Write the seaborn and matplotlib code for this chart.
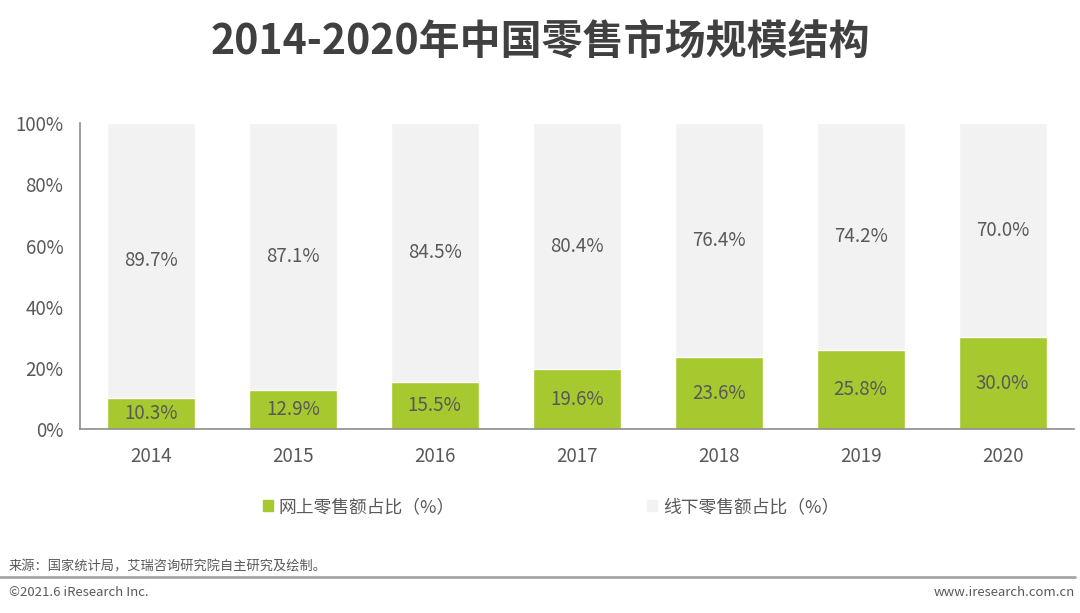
import numpy as np
import pandas as pd
import matplotlib
matplotlib.use('Agg')
import matplotlib.pyplot as plt
import matplotlib.patches as mpatches
import seaborn as sns

# Data
years = ['2014', '2015', '2016', '2017', '2018', '2019', '2020']
online = [10.3, 12.9, 15.5, 19.6, 23.6, 25.8, 30.0]
offline = [89.7, 87.1, 84.5, 80.4, 76.4, 74.2, 70.0]

sns.set_theme(style='white')
plt.rcParams['font.family'] = ['Noto Sans CJK SC', 'DejaVu Sans']

green = '#A5C92F'
grey = '#F2F2F2'
txt = '#595959'

df = pd.DataFrame({'year': years, 'online': online, 'offline': offline})
df['total'] = df['online'] + df['offline']

fig = plt.figure(figsize=(10.8, 6.13), dpi=100)
ax = fig.add_axes([0.074, 0.300, 0.920, 0.499])

# stacked: draw total (grey) first, online (green) on top
sns.barplot(data=df, x='year', y='total', color=grey, width=0.62, ax=ax, saturation=1)
sns.barplot(data=df, x='year', y='online', color=green, width=0.62, ax=ax, saturation=1)

for i, (on, off) in enumerate(zip(online, offline)):
    ax.text(i, on / 2, f'{on:.1f}%', ha='center', va='center', fontsize=13.5, color=txt)
    ax.text(i, on + off / 2, f'{off:.1f}%', ha='center', va='center', fontsize=13.5, color=txt)

ax.set_xlim(-0.5, 6.5)
ax.set_ylim(0, 100)
ax.set_yticks(np.arange(0, 101, 20))
ax.set_yticklabels([f'{v}%' for v in range(0, 101, 20)])
ax.set_xlabel('')
ax.set_ylabel('')
ax.tick_params(axis='both', length=0, labelsize=13.5, colors=txt)
ax.tick_params(axis='y', pad=12)
ax.tick_params(axis='x', pad=12)
for s in ['top', 'right']:
    ax.spines[s].set_visible(False)
for s in ['left', 'bottom']:
    ax.spines[s].set_color('#8C8C8C')
    ax.spines[s].set_linewidth(1.2)

fig.text(0.5, 0.932, '2014-2020年中国零售市场规模结构', ha='center', va='center',
         fontsize=29.5, fontweight='bold', color='#404040')

handles = [mpatches.Patch(color=green, label='网上零售额占比（%）'),
           mpatches.Patch(color=grey, label='线下零售额占比（%）')]
fig.legend(handles=handles, loc='center', bbox_to_anchor=(0.51, 0.173), ncol=2,
           frameon=False, fontsize=12.8, labelcolor=txt, handlelength=0.6,
           handleheight=0.6, handletextpad=0.3, columnspacing=10.8)

fig.text(0.008, 0.075, '来源：国家统计局，艾瑞咨询研究院自主研究及绘制。', fontsize=9.5,
         color='#595959', va='center')
fig.add_artist(plt.Line2D([0.0, 0.995], [0.058, 0.058], color='#A6A6A6', linewidth=2))
fig.text(0.008, 0.034, '©2021.6 iResearch Inc.', fontsize=9.5, color='#595959', va='center')
fig.text(0.995, 0.034, 'www.iresearch.com.cn', fontsize=9.5, color='#595959',
         va='center', ha='right')

fig.savefig('out.png', dpi=100)
